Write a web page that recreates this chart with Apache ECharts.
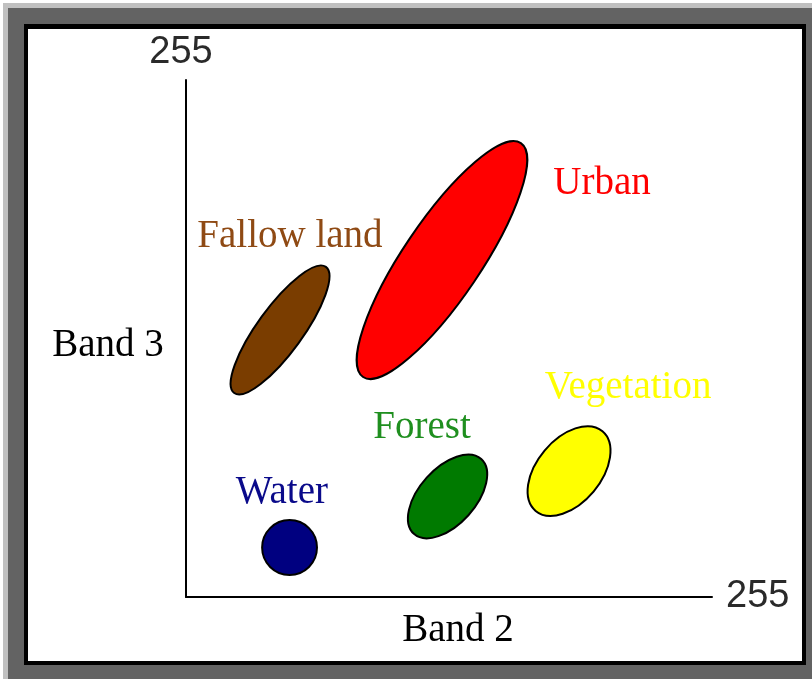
<!DOCTYPE html>
<html>
<head>
<meta charset="utf-8">
<script src="https://cdn.jsdelivr.net/npm/echarts@6/dist/echarts.min.js"></script>
<style>
  html, body { margin: 0; padding: 0; width: 812px; height: 679px; background: #fff; overflow: hidden; }
  .frame { position: absolute; }
  #outer { left: 3px; top: 3px; right: 0; bottom: 0; background: #c0c0c0; }
  #dark { left: 8px; top: 8px; right: 0; bottom: 0; background: #636363; }
  #edge { left: 24px; top: 24px; width: 782px; height: 641px; background: #000; }
  #chart { left: 28px; top: 29px; width: 774px; height: 632px; background: #fff; }
</style>
</head>
<body>
<div id="outer" class="frame"></div>
<div id="dark" class="frame"></div>
<div id="edge" class="frame"></div>
<div id="chart" class="frame"></div>
<script>
// feature space clusters, values in band units (0..255)
const classes = ['Water', 'Fallow land', 'Urban', 'Forest', 'Vegetation']
const centerBand2 = [50.2, 45.6, 124.1, 126.8, 185.7]
const centerBand3 = [24.4, 131.7, 166.2, 49.6, 62.1]
const spreadMajor = [13.3, 37.8, 68.4, 24.4, 25.2]
const spreadMinor = [13.3, 11.0, 18.8, 13.6, 15.5]
const tiltDeg = [0, 54, 56, 48, 50]
const labelBand2 = [46.5, 50.4, 201.7, 114.4, 214.3]
const labelBand3 = [51.3, 177.6, 203.7, 83.4, 103.1]
const axisMax = 255

const fillColors = ['#000080', '#7a3d00', '#ff0000', '#007a00', '#ffff00']
const textColors = ['#0a0a8a', '#8f4a14', '#ff0000', '#1f8f1f', '#ffff00']

const chart = echarts.init(document.getElementById('chart'), null, { renderer: 'canvas' })

const seriesData = classes.map((c, i) => [
    centerBand2[i], centerBand3[i], spreadMajor[i], spreadMinor[i], tiltDeg[i], labelBand2[i], labelBand3[i]
])

const serifFont = '39px "Liberation Serif"'

chart.setOption({
    animation: false,
    grid: { left: 158, top: 51, width: 526, height: 517 },
    xAxis: {
        type: 'value', min: 0, max: axisMax,
        name: String(axisMax), nameLocation: 'end', nameGap: 14,
        nameTextStyle: { fontSize: 38, fontFamily: 'Liberation Sans', color: '#2a2a2a', verticalAlign: 'middle' },
        axisLine: { show: true, lineStyle: { color: '#000', width: 2 } },
        axisTick: { show: false }, axisLabel: { show: false }, splitLine: { show: false },
    },
    yAxis: {
        type: 'value', min: 0, max: axisMax,
        name: String(axisMax), nameLocation: 'end', nameGap: 8,
        nameTextStyle: { fontSize: 38, fontFamily: 'Liberation Sans', color: '#2a2a2a', align: 'center', padding: [0, 10, 0, 0] },
        axisLine: { show: true, lineStyle: { color: '#000', width: 2 } },
        axisTick: { show: false }, axisLabel: { show: false }, splitLine: { show: false },
    },
    graphic: [
        { type: 'text', x: 80, y: 317, style: { text: 'Band 3', font: serifFont, fill: '#000', align: 'center', verticalAlign: 'middle' } },
        { type: 'text', x: 430, y: 602, style: { text: 'Band 2', font: serifFont, fill: '#000', align: 'center', verticalAlign: 'middle' } },
    ],
    series: [{
        type: 'custom',
        clip: false,
        data: seriesData,
        renderItem: (params, api) => {
            const i = params.dataIndex
            const c = api.coord([api.value(0), api.value(1)])
            const rx = api.size([api.value(2), 0])[0]
            const ry = api.size([api.value(3), 0])[0]
            const lc = api.coord([api.value(5), api.value(6)])
            return {
                type: 'group',
                children: [{
                    type: 'ellipse',
                    x: c[0], y: c[1],
                    rotation: api.value(4) * Math.PI / 180,
                    shape: { cx: 0, cy: 0, rx: rx, ry: ry },
                    style: { fill: fillColors[i], stroke: '#000', lineWidth: 2 },
                }, {
                    type: 'text',
                    x: lc[0], y: lc[1],
                    style: { text: classes[i], font: serifFont, fill: textColors[i], align: 'center', verticalAlign: 'middle' },
                }],
            }
        },
    }],
})
</script>
</body>
</html>
